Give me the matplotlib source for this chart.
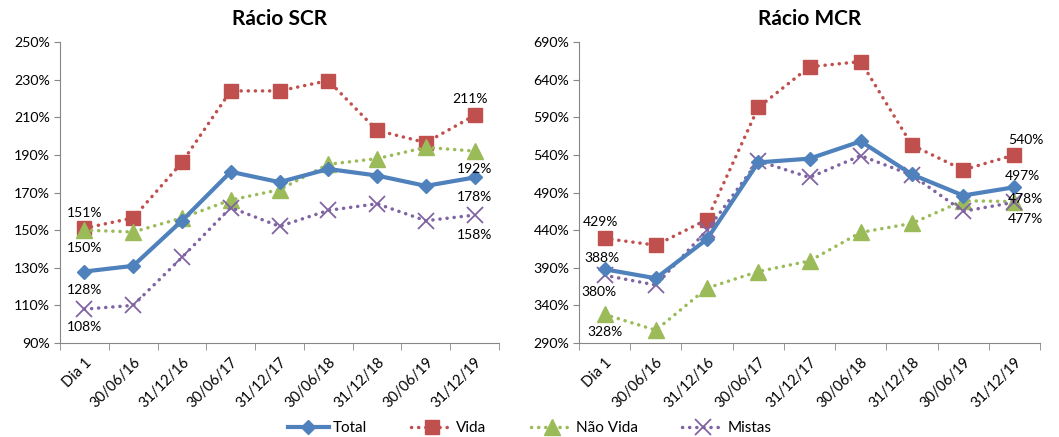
import matplotlib
matplotlib.use("Agg")
import matplotlib.pyplot as plt
from matplotlib.ticker import FuncFormatter, FixedLocator
from matplotlib.lines import Line2D

plt.rcParams['font.family'] = ['Lato', 'DejaVu Sans']

categories = ["Dia 1", "30/06/16", "31/12/16", "30/06/17", "31/12/17",
              "30/06/18", "31/12/18", "30/06/19", "31/12/19"]

# Rácio SCR (%)
scr_total = [128, 131, 155, 181, 175.5, 182.5, 179, 173.5, 178]
scr_vida = [151, 156.5, 186, 224, 224, 229.5, 203, 196.5, 211]
scr_nao_vida = [150, 149, 156.5, 166, 171.5, 185, 188, 194, 192]
scr_mistas = [108, 110, 135.5, 162, 152, 160.5, 164, 155, 158]

# Rácio MCR (%)
mcr_total = [388, 376, 428, 530, 535, 558, 514, 486, 497]
mcr_vida = [429, 420, 454, 603, 657, 664, 553, 520, 540]
mcr_nao_vida = [328, 307, 363, 385, 399, 437, 449, 479, 478]
mcr_mistas = [380, 367, 440, 532, 510, 539, 513, 465, 477]

series_names = ["Total", "Vida", "Não Vida", "Mistas"]
colors = ["#4F81BD", "#C0504D", "#9BBB59", "#8064A2"]

dots = (0, (0.05, 2.0))
styles = [
    dict(linestyle="-", linewidth=3.0, marker="D", markersize=7.5),
    dict(linestyle=dots, linewidth=2.5, marker="s", markersize=10.5,
         dash_capstyle="round"),
    dict(linestyle=dots, linewidth=2.5, marker="^", markersize=11,
         dash_capstyle="round"),
    dict(linestyle=dots, linewidth=2.5, marker="x", markersize=11,
         markeredgewidth=1.3, dash_capstyle="round"),
]

fig = plt.figure(figsize=(10.59, 4.37), dpi=100)
ax1 = fig.add_axes([60 / 1059, 1 - 343 / 437, 439 / 1059, 301 / 437])
ax2 = fig.add_axes([579 / 1059, 1 - 343 / 437, 461 / 1059, 301 / 437])

pct = FuncFormatter(lambda v, p: f"{v:.0f}%")


def draw_panel(ax, data, ylim, ystep, title, labels):
    x = list(range(len(categories)))
    for vals, col, st in zip(data, colors, styles):
        zorder = 3 if st["linestyle"] == "-" else 2
        ax.plot(x, vals, color=col, markerfacecolor=col, markeredgecolor=col,
                zorder=zorder, **st)
    for si, idx, dx, dy in labels:
        v = data[si][idx]
        ax.annotate(f"{v:.0f}%", (idx, v), xytext=(dx, dy),
                    textcoords="offset points", ha="center", va="center",
                    fontsize=10, color="black", zorder=5)
    ax.set_xlim(-0.5, len(categories) - 0.5)
    ax.set_ylim(*ylim)
    ax.yaxis.set_major_locator(FixedLocator(list(range(ylim[0], ylim[1] + 1, ystep))))
    ax.yaxis.set_major_formatter(pct)
    ax.set_xticks(x)
    ax.set_xticklabels(categories, rotation=45, ha="right",
                       rotation_mode="anchor", fontsize=10.5)
    ax.xaxis.set_minor_locator(FixedLocator([i - 0.5 for i in range(len(categories) + 1)]))
    ax.tick_params(axis="x", which="major", length=0, pad=9)
    ax.tick_params(axis="x", which="minor", length=5, color="#868686")
    ax.tick_params(axis="y", length=4, color="#868686", labelsize=10.2, pad=3)
    for side in ("top", "right"):
        ax.spines[side].set_visible(False)
    for side in ("left", "bottom"):
        ax.spines[side].set_color("#868686")
    ax.set_title(title, fontsize=15, fontweight="bold", pad=12)


draw_panel(ax1, [scr_total, scr_vida, scr_nao_vida, scr_mistas], (90, 250), 20,
           "Rácio SCR",
           [(1, 0, 0, 11), (2, 0, 0, -13), (0, 0, 0, -13), (3, 0, 0, -13),
            (1, 8, -3, 12), (2, 8, 0, -13), (0, 8, 0, -14), (3, 8, 0, -14)])
draw_panel(ax2, [mcr_total, mcr_vida, mcr_nao_vida, mcr_mistas], (290, 690), 50,
           "Rácio MCR",
           [(1, 0, -3, 12), (0, 0, -2, 8), (3, 0, -4, -12), (2, 0, 0, -13),
            (1, 8, 8, 11), (0, 8, 6, 8), (2, 8, 8, 2), (3, 8, 8, -12)])

handles = [Line2D([0], [0], color=c, markerfacecolor=c, markeredgecolor=c, **st)
           for c, st in zip(colors, styles)]
fig.legend(handles, series_names, loc="center", bbox_to_anchor=(0.5, 0.02),
           ncol=4, frameon=False, fontsize=11, handlelength=2.7,
           columnspacing=2.9, handletextpad=0.25)

fig.savefig("out.png", dpi=100)
